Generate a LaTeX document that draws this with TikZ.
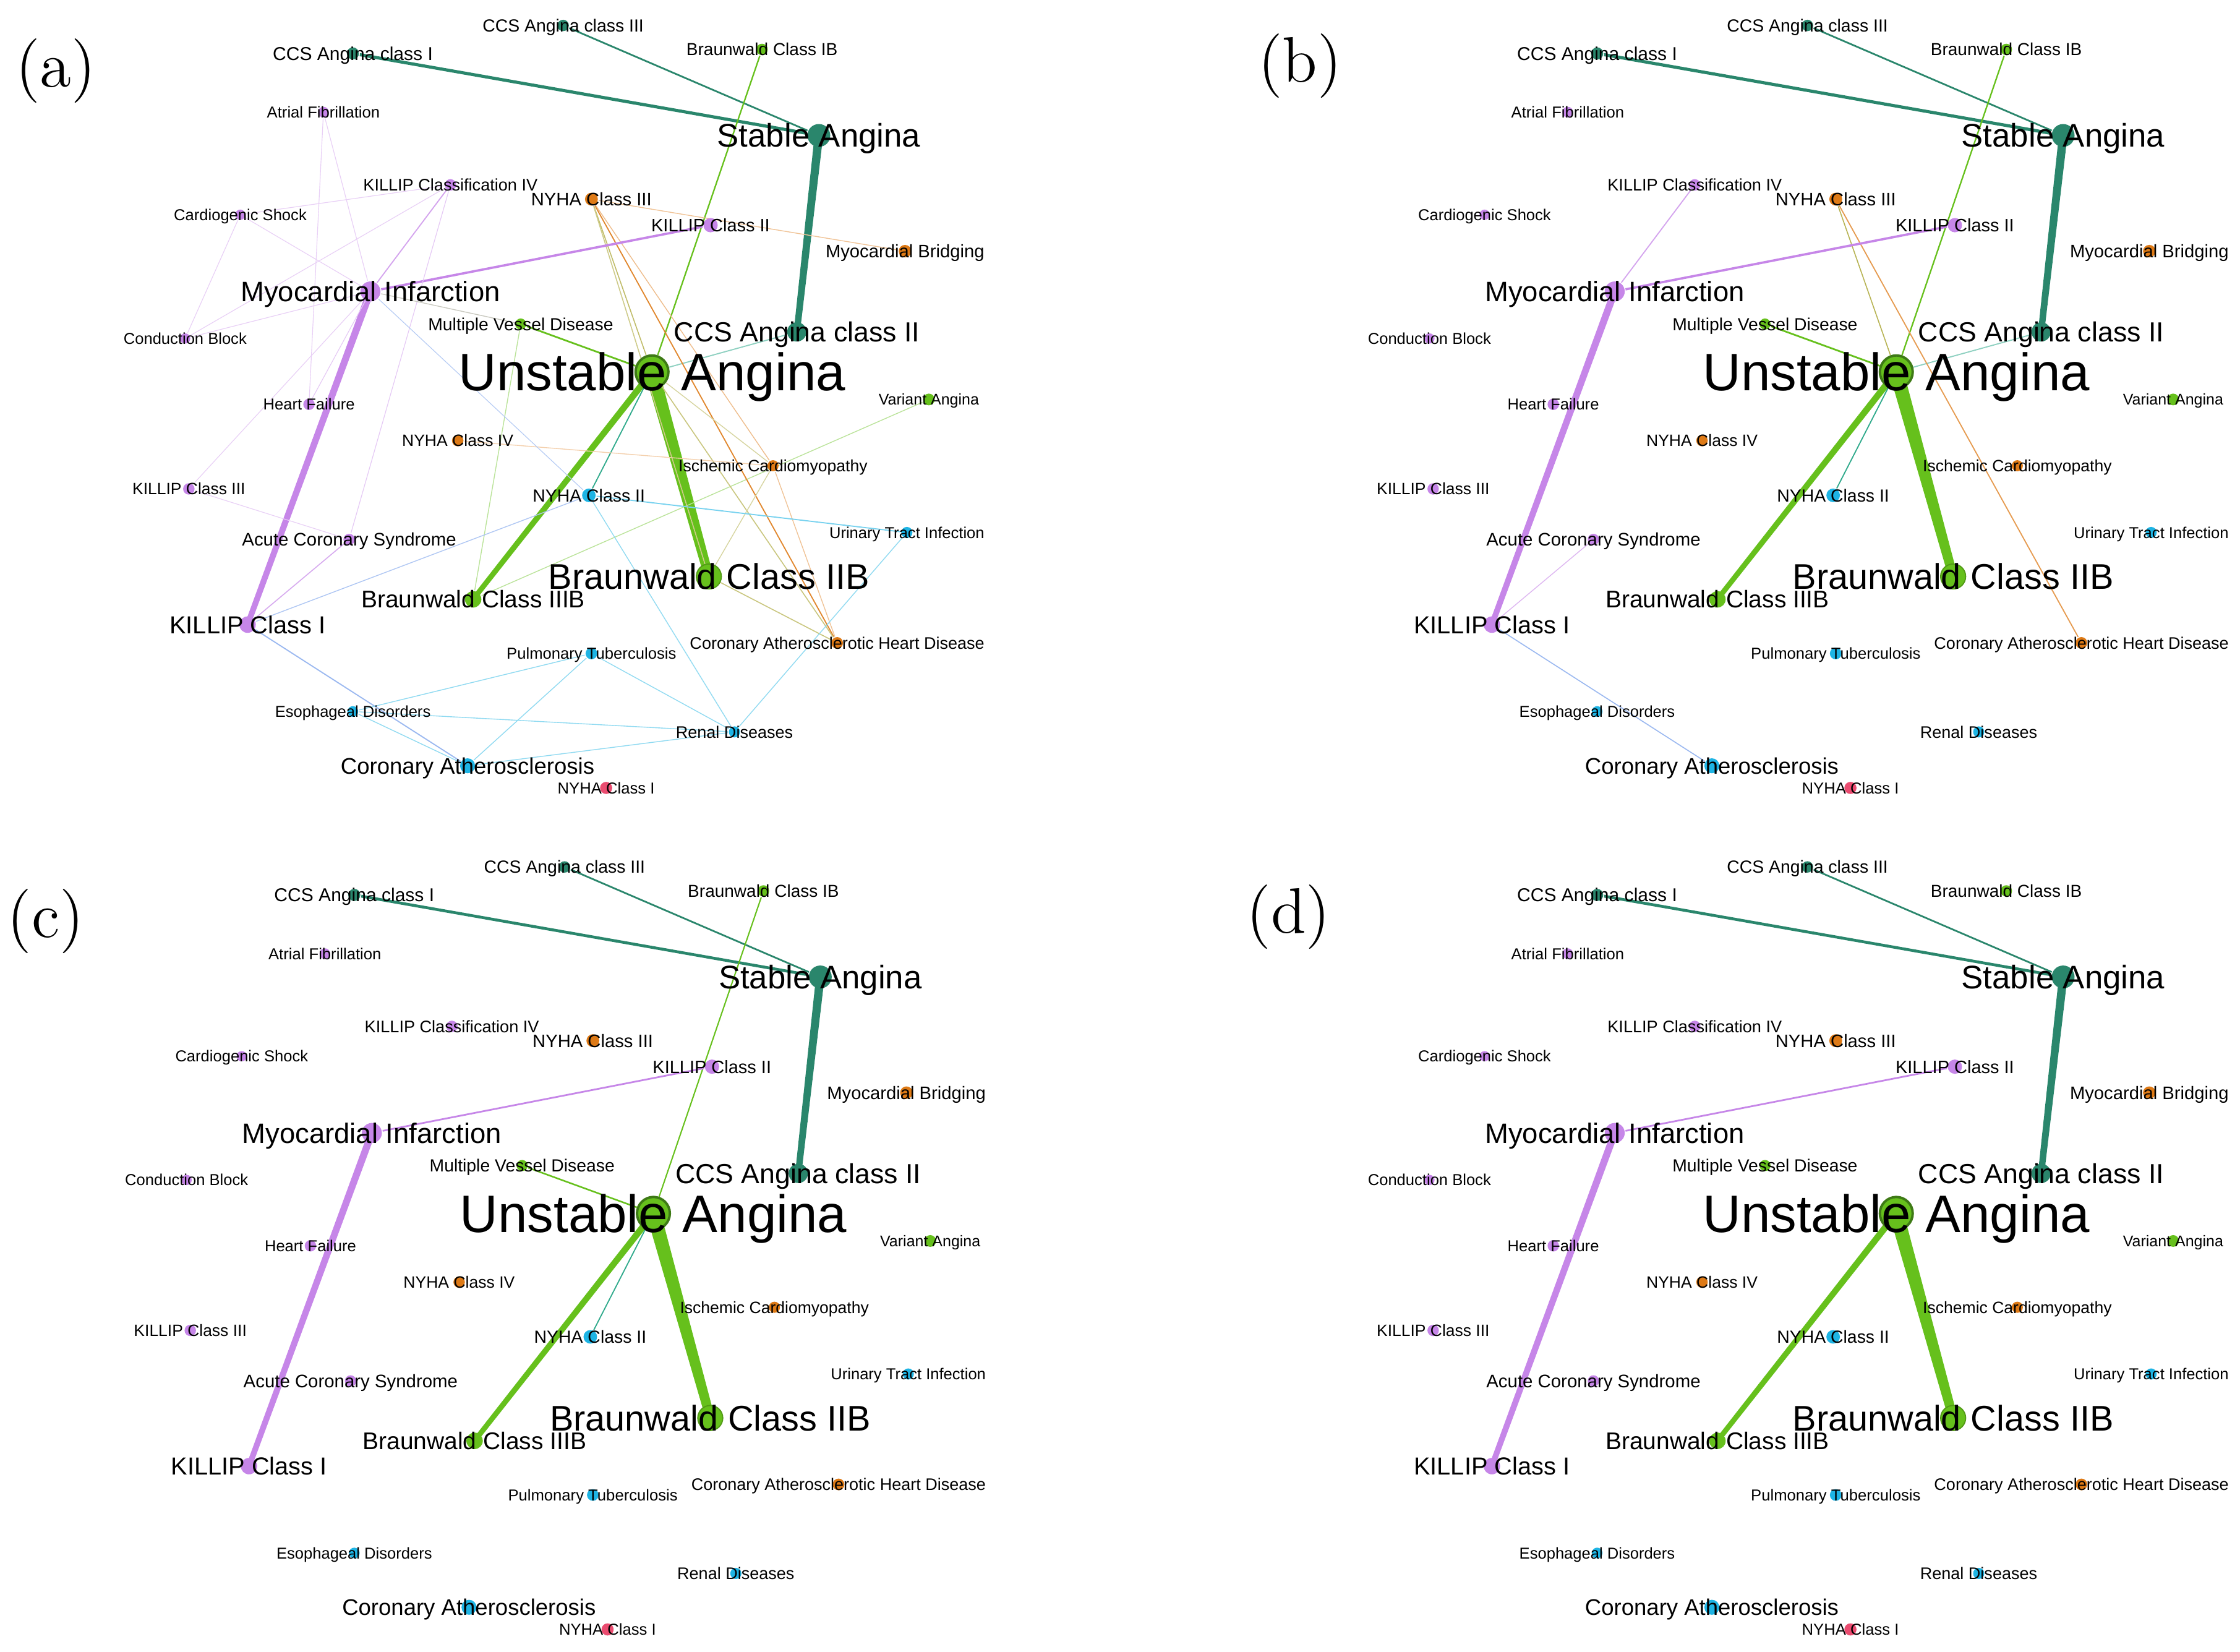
\documentclass[tikz,border=0pt]{standalone}
\usepackage{fontspec}
\newfontfamily\lblfont{Liberation Sans}
\usetikzlibrary{calc, backgrounds}

\definecolor{tealc}{RGB}{42,134,108}
\definecolor{greenc}{RGB}{102,192,28}
\definecolor{purplec}{RGB}{198,134,232}
\definecolor{orangec}{RGB}{222,122,22}
\definecolor{bluec}{RGB}{30,180,228}
\definecolor{pinkc}{RGB}{234,76,112}
\definecolor{olivec}{RGB}{165,160,40}
\definecolor{mixtg}{RGB}{48,170,140}
\definecolor{mixpb}{RGB}{120,160,235}
\definecolor{mixpg}{RGB}{165,165,150}
\definecolor{ringc}{RGB}{62,122,22}

% one vertex: coloured dot and its centred label
\newcommand{\netnode}[6]{%
  \node[vtx, #4, minimum size=#3mm] (#1) at (#2) {};
  \node[lbl=#5] (#1-t) at (#1.center) {#6};}

% heavy edge, drawn as a wedge from #1 to #2
\newcommand{\taper}[5]{%
  \fill[#5] ($(#1)!#3!90:(#2)$) -- ($(#2)!#4!-90:(#1)$)
    -- ($(#2)!#4!90:(#1)$) -- ($(#1)!#3!-90:(#2)$) -- cycle;}

% the 32 vertices, same layout in every panel
\newcommand{\netnodes}{%
  \netnode{ccsiii}{394.2,17.8}{0.8}{tealv}{3.5}{CCS Angina class III}
  \netnode{ccsi}{247,37.4}{0.85}{tealv}{3.7}{CCS Angina class I}
  \netnode{bib}{533.4,34.6}{0.8}{greenv}{3.45}{Braunwald Class IB}
  \netnode{af}{226.4,78.5}{0.75}{purplev}{3.16}{Atrial Fibrillation}
  \netnode{sa}{573.2,94.8}{1.6}{tealv}{6.5}{Stable Angina}
  \netnode{kiv}{315.3,129.4}{0.8}{purplev}{3.34}{KILLIP Classification IV}
  \netnode{nyhaiii}{414,139.4}{0.9}{orangev}{3.6}{NYHA Class III}
  \netnode{cs}{168.2,150.3}{0.72}{purplev}{3.15}{Cardiogenic Shock}
  \netnode{kii}{497.4,157.6}{1.0}{purplev}{3.57}{KILLIP Class II}
  \netnode{mb}{633.5,175.8}{0.88}{orangev}{3.6}{Myocardial Bridging}
  \netnode{mi}{259.3,204}{1.4}{purplev}{5.6}{Myocardial Infarction}
  \netnode{mvd}{364.5,226.8}{0.78}{greenv}{3.49}{Multiple Vessel Disease}
  \netnode{ccsii}{557.8,232.3}{1.35}{tealv}{5.5}{CCS Angina class II}
  \netnode{cb}{129.6,236.9}{0.72}{purplev}{3.15}{Conduction Block}
  \netnode{ua}{456.4,260.3}{2.3}{greenv, draw=ringc, line width=0.17mm}{10.5}{Unstable Angina}
  \netnode{va}{650.2,279.6}{0.82}{greenv}{3.08}{Variant Angina}
  \netnode{hf}{216.3,283}{0.8}{purplev}{3.15}{Heart Failure}
  \netnode{nyhaiv}{320.4,308.4}{0.8}{orangev}{3.27}{NYHA Class IV}
  \netnode{ic}{541.1,326}{0.78}{orangev}{3.27}{Ischemic Cardiomyopathy}
  \netnode{kiii}{132.2,342.2}{0.8}{purplev}{3.26}{KILLIP Class III}
  \netnode{nyhaii}{412.2,346.7}{0.95}{bluev}{3.5}{NYHA Class II}
  \netnode{uti}{634.8,372.7}{0.78}{bluev}{3.15}{Urinary Tract Infection}
  \netnode{acs}{244.4,377.6}{0.8}{purplev}{3.62}{Acute Coronary Syndrome}
  \netnode{biib}{496.2,403.5}{1.75}{greenv, draw=greenc!80!black, line width=0.08mm}{7.1}{Braunwald Class IIB}
  \netnode{biiib}{331.2,419.5}{1.15}{greenv}{4.8}{Braunwald Class IIIB}
  \netnode{ki}{173.3,437.2}{1.15}{purplev}{4.9}{KILLIP Class I}
  \netnode{cahd}{586,450}{0.82}{orangev}{3.33}{Coronary Atherosclerotic Heart Disease}
  \netnode{pulm}{414,457.4}{0.82}{bluev}{3.16}{Pulmonary Tuberculosis}
  \netnode{eso}{247,498}{0.75}{bluev}{3.15}{Esophageal Disorders}
  \netnode{renal}{514.1,512.3}{0.78}{bluev}{3.33}{Renal Diseases}
  \netnode{ca}{327.3,536}{1.05}{bluev}{4.5}{Coronary Atherosclerosis}
  \netnode{nyhai}{424.3,551.5}{0.85}{pinkv}{3.16}{NYHA Class I}}

\begin{document}
\begin{tikzpicture}[
        x=0.1mm, y=-0.1mm,
        % vertices
        vtx/.style={circle, inner sep=0pt, draw=none},
        tealv/.style={fill=tealc},
        greenv/.style={fill=greenc},
        purplev/.style={fill=purplec},
        orangev/.style={fill=orangec},
        bluev/.style={fill=bluec},
        pinkv/.style={fill=pinkc},
        % labels, size in pt
        lbl/.style={font=\lblfont\fontsize{#1pt}{#1pt}\selectfont,
                text=black, inner sep=0pt, anchor=base, yshift={-0.358*#1pt}},
        % edges, width in px of the figure
        link/.style={line width={#1*0.1mm}},
        paneltag/.style={font=\fontsize{12.8pt}{12.8pt}\selectfont, inner sep=0pt}
    ]

    \useasboundingbox (0,0) rectangle (1568,1156);
    \begin{scope}[on background layer]
        \fill[white] (0,0) rectangle (1568,1156);
    \end{scope}

    % Panel (a)
    \node[paneltag] (tag-a) at (39,49.5) {(a)};
    \begin{scope}[name prefix=a-]
        \netnodes
        \begin{scope}[on background layer]
            % stable angina
            \draw[link=2.2, tealc] (ccsi) -- (sa);
            \draw[link=1.2, tealc] (ccsiii) -- (sa);
            \taper{sa}{ccsii}{0.3mm}{0.22mm}{tealc}
            % unstable angina
            \taper{ua}{biib}{0.5mm}{0.32mm}{greenc}
            \taper{ua}{biiib}{0.23mm}{0.18mm}{greenc}
            \draw[link=1, greenc] (ua) -- (bib);
            \draw[link=1.2, greenc] (ua) -- (mvd);
            \draw[link=0.8, mixtg!55] (ua) -- (ccsii);
            \draw[link=0.8, mixtg] (ua) -- (nyhaii);
            \draw[link=0.6, greenc!45] (mvd) -- (biiib);
            \draw[link=0.6, greenc!45] (biiib) -- (va);
            % NYHA / cardiomyopathy
            \draw[link=0.6, orangec!45] (nyhaiii) -- (mb);
            \draw[link=0.7, olivec!70] (nyhaiii) -- (ua);
            \draw[link=0.7, olivec!55] (nyhaiii) -- (biib);
            \draw[link=0.8, orangec!90] (nyhaiii) -- (cahd);
            \draw[link=0.6, orangec!50] (nyhaiii) -- (ic);
            \draw[link=0.6, orangec!45] (ic) -- (cahd);
            \draw[link=0.6, olivec!45] (ua) -- (ic);
            \draw[link=0.7, olivec!60] (ua) -- (cahd);
            \draw[link=0.7, olivec!60] (biib) -- (cahd);
            \draw[link=0.6, olivec!45] (biib) -- (ic);
            \draw[link=0.6, orangec!35] (nyhaiv) -- (ic);
            % myocardial infarction
            \taper{mi}{ki}{0.25mm}{0.2mm}{purplec}
            \draw[link=1.6, purplec] (mi) -- (kii);
            \draw[link=0.8, purplec!75] (mi) -- (kiv);
            \draw[link=0.5, purplec!40] (mi) -- (af);
            \draw[link=0.5, purplec!40] (mi) -- (cs);
            \draw[link=0.5, purplec!40] (mi) -- (cb);
            \draw[link=0.5, purplec!45] (mi) -- (hf);
            \draw[link=0.5, purplec!40] (mi) -- (kiii);
            \draw[link=0.5, purplec!40] (kiv) -- (cs);
            \draw[link=0.5, purplec!40] (kiv) -- (cb);
            \draw[link=0.5, purplec!45] (kiv) -- (acs);
            \draw[link=0.5, purplec!40] (cs) -- (cb);
            \draw[link=0.5, purplec!40] (af) -- (hf);
            \draw[link=0.5, purplec!40] (kiii) -- (acs);
            \draw[link=0.7, purplec!70] (acs) -- (ki);
            \draw[link=0.6, mixpg!60] (mi) -- (mvd);
            % blue group
            \draw[link=0.5, mixpb!55] (mi) -- (nyhaii);
            \draw[link=0.6, mixpb!60] (ki) -- (nyhaii);
            \draw[link=0.8, mixpb!75] (ki) -- (ca);
            \draw[link=0.8, bluec!60] (nyhaii) -- (uti);
            \draw[link=0.6, bluec!50] (nyhaii) -- (renal);
            \draw[link=0.6, bluec!50] (eso) -- (ca);
            \draw[link=0.6, bluec!50] (eso) -- (pulm);
            \draw[link=0.6, bluec!50] (eso) -- (renal);
            \draw[link=0.6, bluec!50] (ca) -- (pulm);
            \draw[link=0.6, bluec!50] (ca) -- (renal);
            \draw[link=0.6, bluec!50] (pulm) -- (renal);
            \draw[link=0.6, bluec!50] (renal) -- (uti);
        \end{scope}
    \end{scope}

    % Panel (b)
    \node[paneltag] (tag-b) at (910,46) {(b)};
    \begin{scope}[shift={(871,0)}, name prefix=b-]
        \netnodes
        \begin{scope}[on background layer]
            \draw[link=2.2, tealc] (ccsi) -- (sa);
            \draw[link=1.2, tealc] (ccsiii) -- (sa);
            \taper{sa}{ccsii}{0.3mm}{0.22mm}{tealc}
            \taper{ua}{biib}{0.5mm}{0.32mm}{greenc}
            \taper{ua}{biiib}{0.23mm}{0.18mm}{greenc}
            \draw[link=1, greenc] (ua) -- (bib);
            \draw[link=1.2, greenc] (ua) -- (mvd);
            \draw[link=0.8, mixtg!55] (ua) -- (ccsii);
            \draw[link=0.8, mixtg] (ua) -- (nyhaii);
            \draw[link=0.7, olivec!80] (nyhaiii) -- (ua);
            \draw[link=0.8, orangec!75] (nyhaiii) -- (cahd);
            \taper{mi}{ki}{0.25mm}{0.2mm}{purplec}
            \draw[link=1.6, purplec] (mi) -- (kii);
            \draw[link=0.8, purplec!75] (mi) -- (kiv);
            \draw[link=0.6, purplec!60] (ki) -- (acs);
            \draw[link=0.7, mixpb!75] (ki) -- (ca);
        \end{scope}
    \end{scope}

    % Panel (c)
    \node[paneltag] (tag-c) at (32,645) {(c)};
    \begin{scope}[shift={(1,589)}, name prefix=c-]
        \netnodes
        \begin{scope}[on background layer]
            \draw[link=2, tealc] (ccsi) -- (sa);
            \draw[link=1.2, tealc] (ccsiii) -- (sa);
            \taper{sa}{ccsii}{0.3mm}{0.22mm}{tealc}
            \taper{ua}{biib}{0.5mm}{0.32mm}{greenc}
            \taper{ua}{biiib}{0.23mm}{0.18mm}{greenc}
            \draw[link=0.9, greenc] (ua) -- (bib);
            \draw[link=1.1, greenc] (ua) -- (mvd);
            \draw[link=0.8, mixtg] (ua) -- (nyhaii);
            \taper{mi}{ki}{0.25mm}{0.2mm}{purplec}
            \draw[link=1.2, purplec] (mi) -- (kii);
        \end{scope}
    \end{scope}

    % Panel (d)
    \node[paneltag] (tag-d) at (902,642) {(d)};
    \begin{scope}[shift={(871,589)}, name prefix=d-]
        \netnodes
        \begin{scope}[on background layer]
            \draw[link=2, tealc] (ccsi) -- (sa);
            \draw[link=1.2, tealc] (ccsiii) -- (sa);
            \taper{sa}{ccsii}{0.3mm}{0.22mm}{tealc}
            \taper{ua}{biib}{0.5mm}{0.32mm}{greenc}
            \taper{ua}{biiib}{0.23mm}{0.18mm}{greenc}
            \taper{mi}{ki}{0.25mm}{0.2mm}{purplec}
            \draw[link=1.2, purplec] (mi) -- (kii);
        \end{scope}
    \end{scope}

\end{tikzpicture}
\end{document}
